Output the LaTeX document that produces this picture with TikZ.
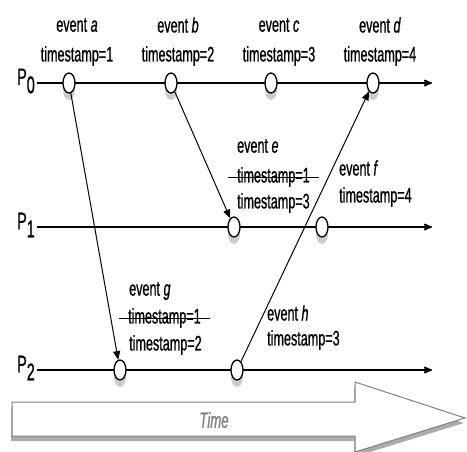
\documentclass[tikz,border=0pt]{standalone}
\usepackage{fontspec}
\setmainfont{Liberation Sans}[FakeStretch=0.6, FakeBold=0.8]
\usetikzlibrary{arrows}
\usetikzlibrary{shapes.geometric}
\usetikzlibrary{shadows}
\tikzset{
 ev/.style={draw=black, line width=1.3pt, fill=white, ellipse, minimum width=12pt, minimum height=20pt, inner sep=0,
   drop shadow={shadow xshift=0pt, shadow yshift=-7pt, opacity=.4}},
 lab/.style={inner sep=1, font=\fontsize{21}{23}\selectfont},
 msg/.style={black, line width=1pt, ->, >=triangle 45}
}
\begin{document}
\begin{tikzpicture}[x=1pt,y=-1pt]
\useasboundingbox (0,0) rectangle (467,452);
\coordinate (O) at (0,0);
\draw[gray, line width=1pt, fill=white, drop shadow={shadow xshift=-1pt, shadow yshift=-5pt, opacity=.65}]
 (12,402) -- (355,402) -- (355,382) -- (465,418) -- (355,452) -- (355,436) -- (12,436) -- cycle;
\node[lab, text=gray, font=\fontsize{22}{24}\selectfont] (time) at (214,420) {\itshape Time};
\foreach \p/\y in {0/83, 1/227, 2/370} {
 \coordinate (s\p) at (37,\y);
 \coordinate (t\p) at (432,\y);
 \draw[black, line width=1.7pt, ->, >=stealth'] (s\p) -- (t\p);
 \node[lab, left, inner sep=2, yshift=2, font=\fontsize{24}{26}\selectfont] (P\p) at (s\p) {P\raisebox{-8pt}{\p}};
}
\foreach \n/\x/\y in {a/69/83, b/171/83, c/271/83, d/373/83, e/234/227, f/322/227, g/120/370, h/237/370}
 \node[ev] (\n) at (\x,\y) {};
\foreach \n/\t/\x in {a/1/77, b/2/178, c/3/279, d/4/380} {
 \node[lab] (ts-\n) at (\x,56) {timestamp=\t};
 \node[lab] (ev-\n) at (\x,25) {event \textit{\n}};
}
\node[lab, anchor=west] (ev-e) at (236,146) {event \textit{e}};
\node[lab, anchor=west, inner xsep=9] (old-e) at (228,177) {timestamp=1};
\draw[thick] (old-e.west) -- (old-e.east);
\node[lab, anchor=west] (ts-e) at (236,203) {timestamp=3};
\node[lab, anchor=west] (ev-f) at (338,168) {event \textit{f}};
\node[lab, anchor=west] (ts-f) at (338,197) {timestamp=4};
\node[lab, anchor=west] (ev-g) at (128,291) {event \textit{g}};
\node[lab, anchor=west, inner xsep=9] (old-g) at (119,318) {timestamp=1};
\draw[thick] (old-g.west) -- (old-g.east);
\node[lab, anchor=west] (ts-g) at (128,345) {timestamp=2};
\node[lab, anchor=west] (ev-h) at (266,313) {event \textit{h}};
\node[lab, anchor=west] (ts-h) at (266,340) {timestamp=3};
\draw[msg] (a) -- (g);
\draw[msg] (b) -- (e);
\draw[msg] (h) -- (d);
\end{tikzpicture}
\end{document}
